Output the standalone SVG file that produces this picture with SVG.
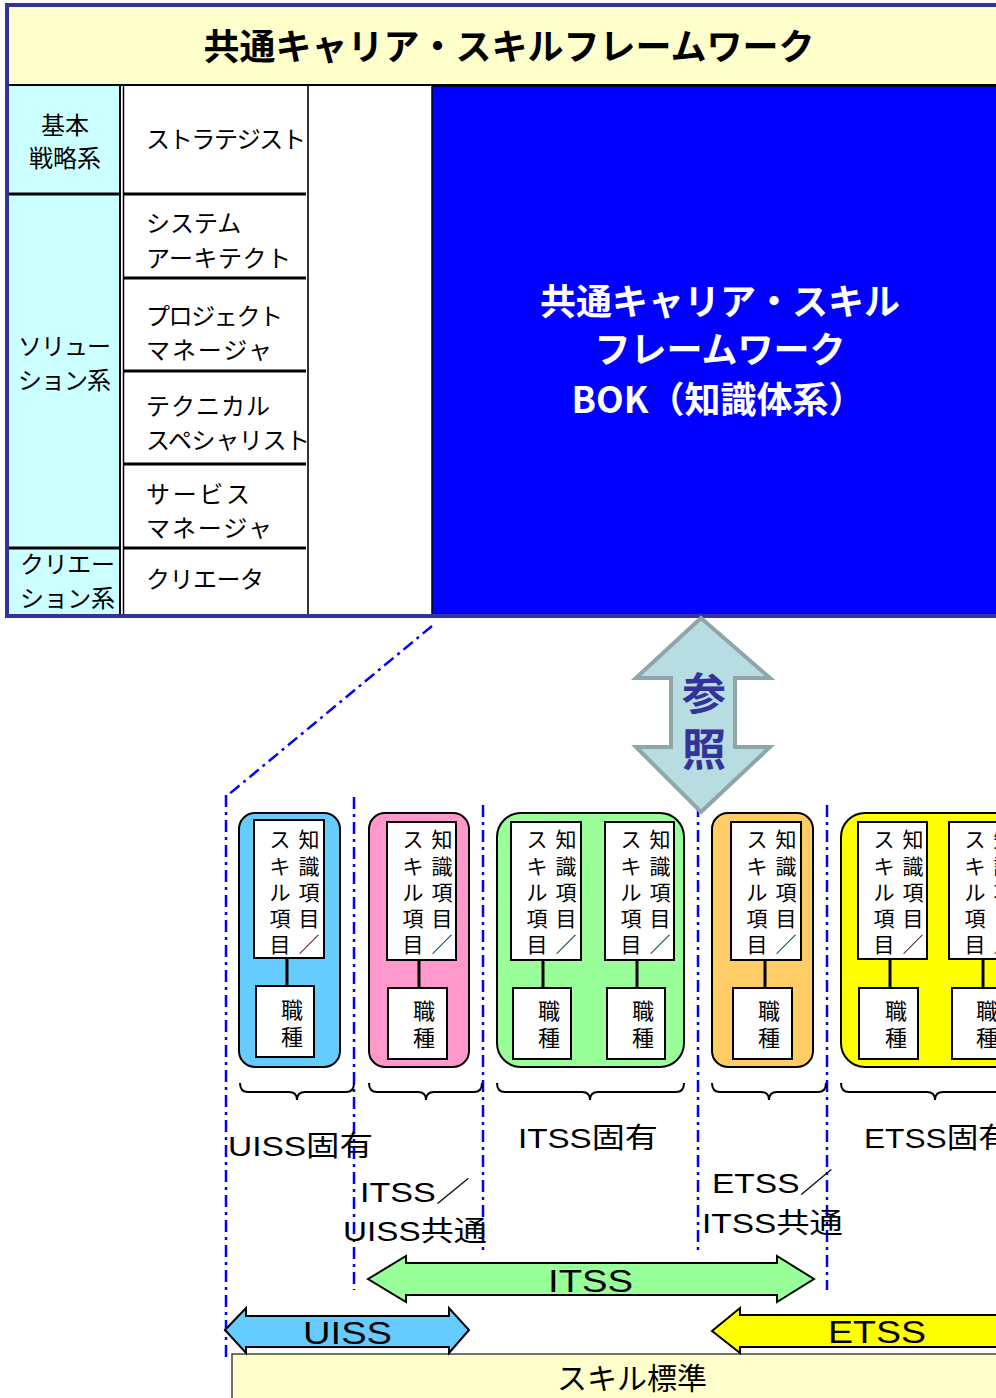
<svg xmlns="http://www.w3.org/2000/svg" width="996" height="1398" viewBox="0 0 996 1398">
<defs>
<style>
.jp{font-family:"Noto Sans CJK JP","Liberation Sans",sans-serif;fill:#000}
.lab{font-family:"Liberation Sans","Noto Sans CJK JP",sans-serif;fill:#000}
.m{font-size:24px}
.v{font-size:21px;text-anchor:middle}
.grp{stroke:#000;stroke-width:2}
.ib{fill:#fff;stroke:#000;stroke-width:2}
.cn{stroke:#000;stroke-width:3}
.dd{stroke:#0000FF;stroke-width:2.5;stroke-dasharray:12 5 3 5;fill:none}
.div{stroke:#000;stroke-width:3}
.arr{stroke:#000;stroke-width:2}
.brace{fill:none;stroke:#000;stroke-width:2}
.wt{fill:#fff;font-size:36px;font-weight:bold;text-anchor:middle}
</style>
</defs>

<g id="framework-header">
<rect x="8" y="7" width="995" height="78" fill="#FFFFCC"/>
<line x1="8" y1="85" x2="1000" y2="85" stroke="#000" stroke-width="2"/>
<text class="jp" x="509" y="60" font-size="36" font-weight="bold" text-anchor="middle">共通キャリア・スキルフレームワーク</text>
</g>

<g id="career-table">
<rect x="8" y="86" width="112" height="529" fill="#CCFFFF"/>
<rect x="122" y="86" width="310" height="529" fill="#fff"/>
<line x1="120" y1="86" x2="120" y2="615" stroke="#000" stroke-width="2"/>
<line x1="123.5" y1="86" x2="123.5" y2="615" stroke="#000" stroke-width="1.5"/>
<line x1="308" y1="86" x2="308" y2="615" stroke="#333" stroke-width="2"/>
<line class="div" x1="8" y1="194" x2="120" y2="194"/>
<line class="div" x1="8" y1="548" x2="120" y2="548"/>
<line class="div" x1="123" y1="194" x2="306" y2="194"/>
<line class="div" x1="123" y1="278" x2="306" y2="278"/>
<line class="div" x1="123" y1="371" x2="306" y2="371"/>
<line class="div" x1="123" y1="464" x2="306" y2="464"/>
<line class="div" x1="123" y1="548" x2="306" y2="548"/>
<text class="jp m" x="65" y="134" text-anchor="middle">基本</text>
<text class="jp m" x="65" y="167" text-anchor="middle">戦略系</text>
<text class="jp m" x="18" y="355" textLength="93">ソリュー</text>
<text class="jp m" x="18" y="389" textLength="93">ション系</text>
<text class="jp m" x="20" y="573" textLength="95">クリエー</text>
<text class="jp m" x="20" y="607" textLength="95">ション系</text>
<text class="jp m" x="146" y="148" textLength="160">ストラテジスト</text>
<text class="jp m" x="146" y="232">システム</text>
<text class="jp m" x="146" y="267" textLength="145">アーキテクト</text>
<text class="jp m" x="146" y="325" textLength="137">プロジェクト</text>
<text class="jp m" x="146" y="359" textLength="126">マネージャ</text>
<text class="jp m" x="146" y="415" textLength="124">テクニカル</text>
<text class="jp m" x="146" y="449" textLength="164">スペシャリスト</text>
<text class="jp m" x="146" y="503" textLength="104">サービス</text>
<text class="jp m" x="146" y="537" textLength="126">マネージャ</text>
<text class="jp m" x="146" y="588" textLength="118">クリエータ</text>
</g>

<g id="bok">
<rect x="432" y="86" width="575" height="529" fill="#0000FF" stroke="#000" stroke-width="1.5"/>
<text class="jp wt" x="720" y="315" style="fill:#fff">共通キャリア・スキル</text>
<text class="jp wt" x="720" y="363" style="fill:#fff">フレームワーク</text>
<text class="jp wt" x="718" y="413" style="fill:#fff">BOK（知識体系）</text>
</g>

<rect x="7" y="5" width="1000" height="611" fill="none" stroke="#333399" stroke-width="4"/>

<g id="connectors">
<line class="dd" x1="432" y1="626" x2="228" y2="795"/>
<line class="dd" x1="226" y1="795" x2="226" y2="1360"/>
<line class="dd" x1="354" y1="797" x2="354" y2="1290"/>
<line class="dd" x1="483" y1="805" x2="483" y2="1254"/>
<line class="dd" x1="698" y1="805" x2="698" y2="1254"/>
<line class="dd" x1="827" y1="805" x2="827" y2="1290"/>
</g>

<g id="reference-arrow">
<polygon points="701,618 770,678 735,678 735,747 770,747 701,812 636,747 671,747 671,678 636,678" fill="#B7DDE3" stroke="#8EA6A8" stroke-width="4"/>
<text class="jp" x="704" y="710" font-size="44" font-weight="bold" style="fill:#333399" text-anchor="middle">参</text>
<text class="jp" x="704" y="766" font-size="44" font-weight="bold" style="fill:#333399" text-anchor="middle">照</text>
</g>

<g id="uiss-group">
<rect class="grp" x="239" y="813" width="101" height="254" rx="16" fill="#66CCFF"/>
<rect class="ib" x="254" y="820" width="70" height="138"/>
<line class="cn" x1="287" y1="958" x2="287" y2="986"/>
<rect class="ib" x="256" y="986" width="58" height="71"/>
<text class="jp v" x="309 309 309 309 309" y="847 874 900 926 952">知識項目／</text>
<text class="jp v" x="280 280 280 280 280" y="847 874 900 926 952">スキル項目</text>
<text class="jp v" style="font-size:22px" x="292 292" y="1018 1045">職種</text>
</g>

<g id="itss-uiss-group">
<rect class="grp" x="369" y="813" width="100" height="254" rx="16" fill="#FF99CC"/>
<rect class="ib" x="387" y="822" width="69" height="138"/>
<line class="cn" x1="419" y1="960" x2="419" y2="988"/>
<rect class="ib" x="388" y="988" width="59" height="71"/>
<text class="jp v" x="442 442 442 442 442" y="847 874 900 926 952">知識項目／</text>
<text class="jp v" x="413 413 413 413 413" y="847 874 900 926 952">スキル項目</text>
<text class="jp v" style="font-size:22px" x="424 424" y="1019 1046">職種</text>
</g>

<g id="itss-group">
<rect class="grp" x="497" y="813" width="187" height="254" rx="24" fill="#99FF99"/>
<rect class="ib" x="511" y="822" width="70" height="138"/>
<line class="cn" x1="543" y1="960" x2="543" y2="988"/>
<rect class="ib" x="513" y="988" width="58" height="71"/>
<text class="jp v" x="566 566 566 566 566" y="847 874 900 926 952">知識項目／</text>
<text class="jp v" x="537 537 537 537 537" y="847 874 900 926 952">スキル項目</text>
<text class="jp v" style="font-size:22px" x="549 549" y="1019 1046">職種</text>
<rect class="ib" x="605" y="822" width="69" height="138"/>
<line class="cn" x1="637" y1="960" x2="637" y2="988"/>
<rect class="ib" x="607" y="988" width="58" height="71"/>
<text class="jp v" x="660 660 660 660 660" y="847 874 900 926 952">知識項目／</text>
<text class="jp v" x="631 631 631 631 631" y="847 874 900 926 952">スキル項目</text>
<text class="jp v" style="font-size:22px" x="643 643" y="1019 1046">職種</text>
</g>

<g id="etss-itss-group">
<rect class="grp" x="712" y="813" width="101" height="254" rx="16" fill="#FFCC66"/>
<rect class="ib" x="731" y="822" width="70" height="138"/>
<line class="cn" x1="765" y1="960" x2="765" y2="988"/>
<rect class="ib" x="733" y="988" width="59" height="71"/>
<text class="jp v" x="786 786 786 786 786" y="847 874 900 926 952">知識項目／</text>
<text class="jp v" x="757 757 757 757 757" y="847 874 900 926 952">スキル項目</text>
<text class="jp v" style="font-size:22px" x="769 769" y="1019 1046">職種</text>
</g>

<g id="etss-group">
<rect class="grp" x="841" y="813" width="260" height="254" rx="24" fill="#FFFF00"/>
<rect class="ib" x="858" y="822" width="69" height="137"/>
<line class="cn" x1="890" y1="959" x2="890" y2="988"/>
<rect class="ib" x="859" y="988" width="59" height="71"/>
<text class="jp v" x="913 913 913 913 913" y="847 874 900 926 952">知識項目／</text>
<text class="jp v" x="884 884 884 884 884" y="847 874 900 926 952">スキル項目</text>
<text class="jp v" style="font-size:22px" x="896 896" y="1019 1046">職種</text>
<rect class="ib" x="949" y="822" width="69" height="137"/>
<line class="cn" x1="983" y1="959" x2="983" y2="988"/>
<rect class="ib" x="952" y="988" width="59" height="71"/>
<text class="jp v" x="1004 1004 1004 1004 1004" y="847 874 900 926 952">知識項目／</text>
<text class="jp v" x="975 975 975 975 975" y="847 874 900 926 952">スキル項目</text>
<text class="jp v" style="font-size:22px" x="987 987" y="1019 1046">職種</text>
</g>

<g id="braces">
<path class="brace" d="M240,1083 Q240,1092 248,1092 L289,1092 Q297,1092 297,1100 Q297,1092 305,1092 L346,1092 Q354,1092 354,1083"/>
<path class="brace" d="M369,1083 Q369,1092 377,1092 L418,1092 Q426,1092 426,1100 Q426,1092 434,1092 L474,1092 Q482,1092 482,1083"/>
<path class="brace" d="M497,1083 Q497,1092 505,1092 L582,1092 Q590,1092 590,1100 Q590,1092 598,1092 L676,1092 Q684,1092 684,1083"/>
<path class="brace" d="M712,1083 Q712,1092 720,1092 L761,1092 Q769,1092 769,1100 Q769,1092 777,1092 L818,1092 Q826,1092 826,1083"/>
<path class="brace" d="M841,1083 Q841,1092 849,1092 L927,1092 Q935,1092 935,1100 Q935,1092 943,1092 L1022,1092 Q1030,1092 1030,1083"/>
</g>

<g id="labels">
<text class="lab" x="228" y="1156" font-size="28" textLength="145" lengthAdjust="spacingAndGlyphs">UISS固有</text>
<text class="lab" x="518" y="1148" font-size="28" textLength="140" lengthAdjust="spacingAndGlyphs">ITSS固有</text>
<text class="lab" x="864" y="1148" font-size="28" textLength="146" lengthAdjust="spacingAndGlyphs">ETSS固有</text>
<text class="lab" x="360" y="1202" font-size="28" textLength="110" lengthAdjust="spacingAndGlyphs">ITSS／</text>
<text class="lab" x="343" y="1241" font-size="28" textLength="144" lengthAdjust="spacingAndGlyphs">UISS共通</text>
<text class="lab" x="712" y="1193" font-size="28" textLength="121" lengthAdjust="spacingAndGlyphs">ETSS／</text>
<text class="lab" x="702" y="1233" font-size="28" textLength="141" lengthAdjust="spacingAndGlyphs">ITSS共通</text>
</g>

<g id="skill-standard">
<rect x="232" y="1354" width="800" height="60" fill="#FFFFCC" stroke="#444" stroke-width="1.5"/>
<text class="jp" x="632" y="1389" font-size="30" text-anchor="middle">スキル標準</text>
</g>

<g id="itss-arrow">
<polygon class="arr" points="368,1279 406,1256 406,1263 777,1263 777,1256 814,1279 777,1302 777,1295 406,1295 406,1302" fill="#99FF99"/>
<text class="lab" x="548" y="1292" font-size="32" textLength="85" lengthAdjust="spacingAndGlyphs">ITSS</text>
</g>

<g id="uiss-arrow">
<polygon class="arr" points="225,1330 246,1308 246,1316 449,1316 449,1308 469,1330 449,1353 449,1347 246,1347 246,1353" fill="#66CCFF"/>
<text class="lab" x="303" y="1344" font-size="32" textLength="89" lengthAdjust="spacingAndGlyphs">UISS</text>
</g>

<g id="etss-arrow">
<polygon class="arr" points="712,1331 740,1308 740,1315 1010,1315 1010,1347 740,1347 740,1353" fill="#FFFF00"/>
<text class="lab" x="828" y="1343" font-size="32" textLength="98" lengthAdjust="spacingAndGlyphs">ETSS</text>
</g>
</svg>
